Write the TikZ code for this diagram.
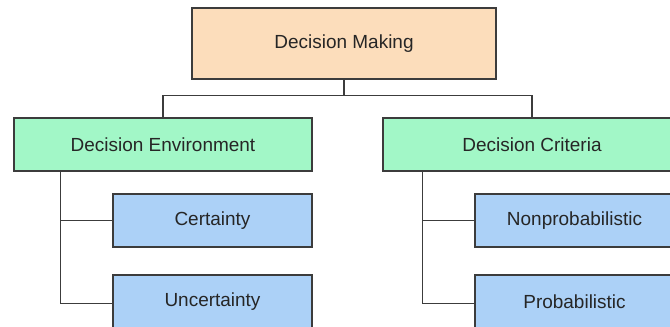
\documentclass[tikz,border=0pt]{standalone}
\usepackage{fontspec}
\setmainfont{Liberation Sans}
\definecolor{rootfill}{RGB}{252,221,187}
\definecolor{groupfill}{RGB}{162,247,199}
\definecolor{leaffill}{RGB}{172,209,247}
\definecolor{edgegray}{RGB}{60,60,60}
\begin{document}
\begin{tikzpicture}[every node/.style={font=\fontsize{13.5}{16}\selectfont,text=black!85},
  box/.style={draw=edgegray,line width=1pt,inner sep=0pt},
  rootbox/.style={box,fill=rootfill,minimum width=7.6cm,minimum height=1.775cm},
  groupbox/.style={box,fill=groupfill,minimum width=7.45cm,minimum height=1.325cm},
  leafbox/.style={box,fill=leaffill,minimum width=4.975cm,minimum height=1.325cm},
  link/.style={draw=edgegray,line width=0.8pt}]
\useasboundingbox (0,0) rectangle (16.75,8.175);
\node[rootbox] (dm) at (8.6,7.0875) {Decision Making};
\node[groupbox] (env) at (4.075,4.5625) {Decision Environment};
\node[groupbox] (crit) at (13.3,4.5625) {Decision Criteria};
\node[leafbox] (cert) at (5.3125,2.6625) {Certainty};
\node[leafbox] (uncert) at (5.3125,0.6375) {Uncertainty};
\node[leafbox] (nonprob) at (14.3625,2.6625) {Nonprobabilistic};
\node[leafbox] (prob) at (14.3625,0.6375) {Probabilistic};
% top level split
\draw[link] (dm.south) -- ++(0,-0.4) -| (env.north);
\draw[link] (dm.south) -- ++(0,-0.4) -| (crit.north);
% branches down the left side of each group
\draw[link] ([xshift=1.175cm]env.south west) |- (cert.west);
\draw[link] ([xshift=1.175cm]env.south west) |- ([yshift=-0.06cm]uncert.west);
\draw[link] ([xshift=1cm]crit.south west) |- (nonprob.west);
\draw[link] ([xshift=1cm]crit.south west) |- ([yshift=-0.06cm]prob.west);
\end{tikzpicture}
\end{document}
